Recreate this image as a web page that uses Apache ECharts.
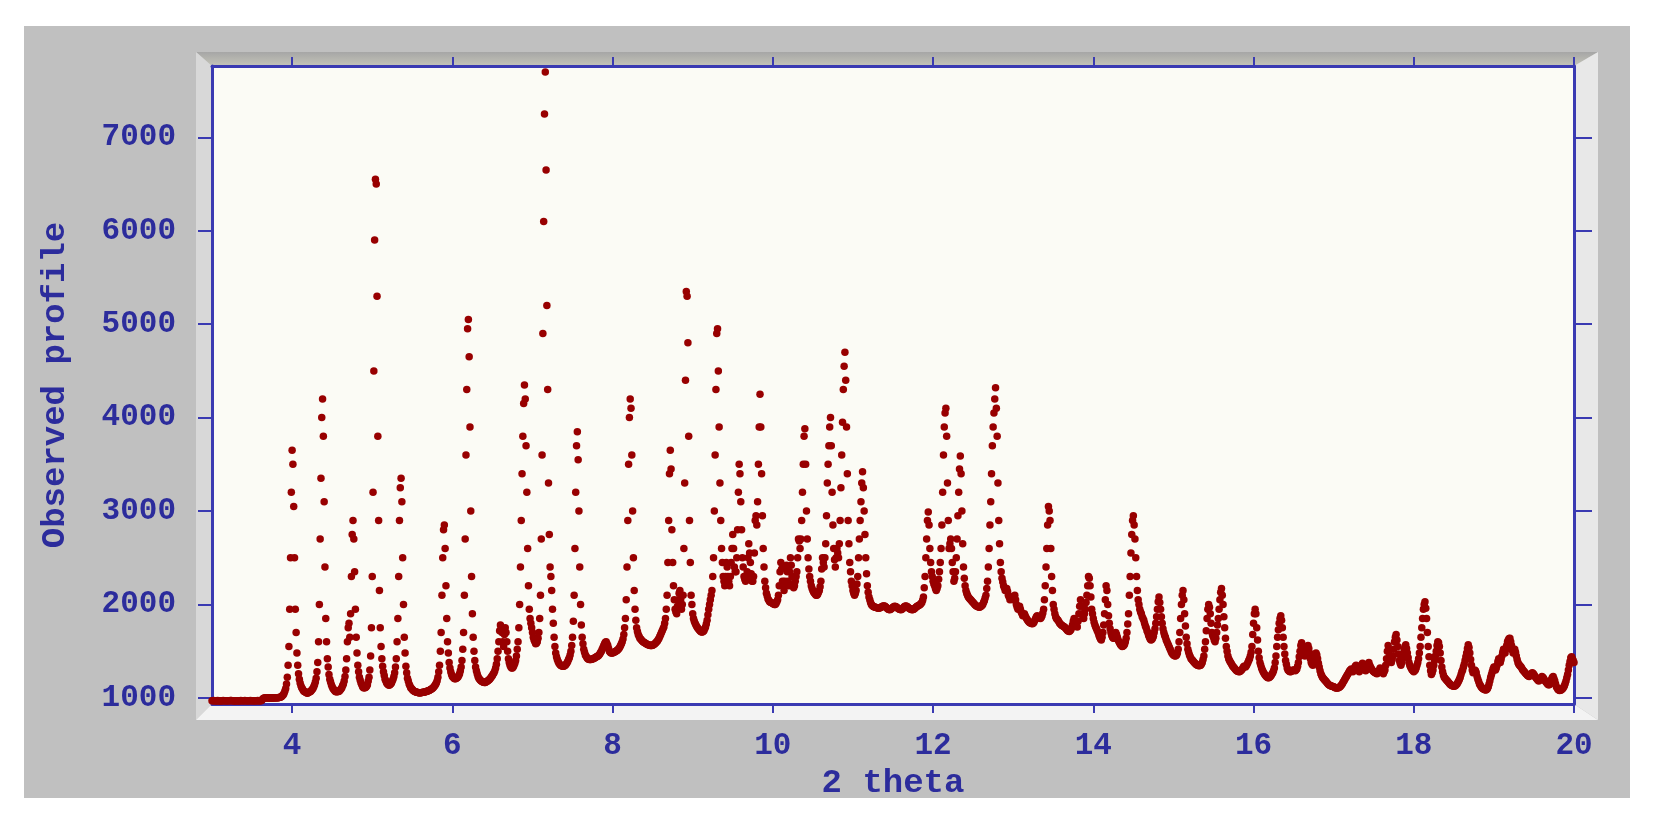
<!DOCTYPE html>
<html><head><meta charset="utf-8">
<script src="https://cdn.jsdelivr.net/npm/echarts@6/dist/echarts.min.js"></script>
<style>html,body{margin:0;padding:0;background:#fff;}#c{width:1660px;height:824px;}</style>
</head><body><div id="c"></div>
<script>
// Measured 2-theta grid: 0.01 degree steps.
// yD  = observed profile at x = D.00, D.02, ... D.98
// yDo = observed profile at x = D.01, D.03, ... D.99
const X_STEP = 0.01;
const y3 = [970,972,970,968,971,970,969,972,970,971,969,970,972,970,968,970,971,970,972,969,970,971,970,969,972,970,971,970,969,971,970,972,995,1000,998,1002,1000,997,1001,999,1003,1000,1005,1010,1025,1050,1100,1220,1550,2500];
const y3o = [971,969,970,972,970,968,971,970,971,969,970,972,970,969,971,970,968,971,970,970,972,969,971,970,970,971,969,970,972,970,971,985,998,1001,999,1000,1002,998,1000,1001,1002,1004,1008,1015,1035,1075,1150,1350,1950,3200];
const y4 = [3650,3050,1950,1480,1260,1160,1110,1080,1065,1055,1055,1065,1080,1100,1140,1210,1380,2000,3350,4200,3100,1850,1420,1250,1170,1120,1090,1070,1065,1070,1085,1110,1150,1230,1420,1750,1650,2300,2900,2350,1650,1350,1220,1160,1120,1110,1115,1140,1220,1450];
const y4o = [3500,2500,1700,1350,1200,1130,1095,1070,1060,1050,1060,1070,1090,1120,1170,1280,1600,2700,4000,3800,2400,1600,1330,1200,1140,1100,1080,1065,1070,1075,1095,1130,1180,1300,1600,1800,1900,2750,2700,1950,1480,1280,1190,1140,1110,1110,1125,1180,1300,1750];
const y5 = [2300,4500,6550,5300,2900,1750,1420,1280,1200,1160,1140,1140,1160,1200,1270,1420,1850,2900,3350,2500,1650,1340,1210,1150,1110,1090,1075,1065,1060,1055,1055,1058,1060,1065,1070,1078,1085,1095,1110,1130,1160,1220,1350,1700,2500,2850,2200,1600,1380,1280];
const y5o = [3200,5900,6500,3800,2150,1550,1340,1240,1180,1150,1135,1150,1180,1230,1330,1600,2300,3250,3100,2000,1480,1270,1180,1130,1100,1080,1070,1062,1058,1052,1056,1060,1062,1068,1074,1080,1090,1100,1120,1145,1185,1280,1500,2100,2800,2600,1850,1480,1320,1250];
const y6 = [1230,1210,1205,1215,1240,1290,1400,1700,2700,4300,5050,3900,2300,1650,1400,1290,1230,1200,1180,1170,1165,1170,1180,1195,1215,1240,1270,1320,1420,1600,1780,1700,1550,1750,1600,1420,1350,1320,1330,1370,1450,1600,2000,2900,3800,4350,3700,2600,1950,1800];
const y6o = [1220,1205,1210,1225,1260,1330,1520,2100,3600,4950,4650,3000,1900,1500,1330,1260,1210,1190,1175,1168,1166,1175,1188,1205,1228,1255,1290,1360,1500,1720,1760,1600,1680,1700,1500,1380,1330,1320,1350,1400,1520,1750,2400,3400,4150,4200,3200,2200,1850,1750];
const y7 = [1700,1620,1580,1600,1700,2100,3600,6100,7700,5200,3300,2400,2150,1800,1550,1440,1390,1360,1345,1340,1345,1360,1390,1430,1500,1650,2100,3200,3850,3000,2000,1650,1520,1460,1430,1415,1410,1415,1420,1430,1440,1450,1470,1500,1540,1580,1600,1560,1500,1480];
const y7o = [1650,1600,1585,1640,1850,2700,4900,7250,6650,4300,2750,2300,1950,1650,1480,1410,1370,1350,1342,1340,1350,1375,1410,1460,1560,1820,2600,3700,3550,2400,1780,1580,1490,1445,1420,1412,1412,1418,1425,1435,1445,1460,1485,1520,1560,1595,1580,1530,1490,1480];
const y8 = [1480,1490,1500,1510,1530,1560,1600,1680,1850,2400,3500,4200,3600,2500,1950,1750,1680,1640,1620,1600,1590,1580,1570,1565,1560,1565,1575,1590,1610,1640,1680,1720,1760,1850,2100,2900,3650,2800,2200,1950,1900,2050,2150,1950,2100,3300,5350,4800,2900,2100];
const y8o = [1485,1495,1505,1520,1545,1580,1630,1750,2050,2900,4000,4100,3000,2150,1830,1710,1660,1630,1610,1595,1585,1575,1568,1562,1562,1570,1582,1600,1625,1660,1700,1740,1800,1950,2450,3400,3450,2450,2050,1920,1980,2120,2050,2000,2600,4400,5300,3800,2450,2000];
const y9 = [1900,1820,1780,1750,1730,1710,1705,1720,1760,1830,1950,2050,2150,2500,3600,4900,4500,3300,2600,2300,2200,2450,2300,2200,2450,2750,2400,2350,2800,3500,3100,2500,2300,2250,2350,2650,2450,2250,2300,2900,2850,3500,4250,3400,2600,2250,2120,2060,2030,2020];
const y9o = [1850,1800,1765,1740,1720,1705,1710,1740,1790,1890,2000,2100,2300,3000,4300,4950,3900,2900,2450,2250,2300,2400,2250,2300,2600,2600,2350,2500,3200,3400,2800,2400,2270,2280,2500,2550,2330,2250,2550,2950,3100,3900,3900,2950,2400,2180,2090,2045,2025,2015];
const y10 = [2010,2000,2010,2050,2200,2450,2250,2150,2400,2350,2200,2500,2300,2180,2250,2350,2700,2600,2900,3500,3880,3000,2500,2300,2200,2150,2120,2100,2110,2150,2250,2500,2400,2650,3300,3700,4000,3200,2600,2400,2600,2500,2900,3600,4300,4700,3900,2900,2450,2250];
const y10o = [2005,2000,2030,2100,2350,2380,2200,2250,2420,2250,2350,2420,2220,2200,2300,2500,2680,2700,3200,3800,3500,2700,2380,2250,2170,2130,2110,2100,2130,2190,2380,2450,2500,2950,3500,3900,3700,2850,2480,2500,2550,2650,3250,3950,4550,4400,3400,2650,2350,2200];
const y11 = [2150,2100,2150,2300,2700,3100,3420,3000,2500,2200,2080,2020,1990,1975,1970,1965,1960,1965,1975,1985,1980,1965,1950,1945,1955,1970,1980,1975,1960,1950,1945,1955,1975,1985,1975,1960,1950,1945,1950,1965,1980,1990,2000,2020,2080,2300,2700,2990,2600,2350];
const y11o = [2120,2120,2220,2500,2900,3300,3250,2750,2330,2130,2050,2000,1980,1972,1968,1962,1962,1970,1980,1985,1972,1958,1946,1950,1962,1976,1978,1968,1955,1946,1950,1965,1982,1980,1968,1955,1946,1946,1958,1972,1985,1995,2010,2045,2180,2500,2900,2850,2450,2300];
const y12 = [2250,2200,2150,2200,2350,2600,3200,3900,4100,3300,2600,2700,2450,2250,2350,2700,3200,3590,3000,2400,2200,2120,2080,2060,2040,2020,2000,1985,1975,1970,1980,2000,2040,2100,2250,2600,3100,3700,4050,4320,3800,2900,2450,2280,2200,2150,2170,2100,2050,2080];
const y12o = [2220,2170,2170,2270,2450,2850,3600,4050,3800,2900,2650,2600,2350,2280,2500,2950,3450,3400,2650,2280,2150,2100,2070,2050,2030,2010,1992,1980,1972,1975,1990,2020,2070,2170,2400,2850,3400,3900,4200,4100,3300,2650,2350,2240,2180,2160,2140,2080,2060,2070];
const y13 = [2050,2100,2000,1950,1980,1920,1880,1900,1860,1830,1810,1800,1795,1810,1850,1880,1860,1850,1880,1950,2200,2600,3050,2900,2300,2000,1900,1850,1830,1800,1780,1770,1760,1740,1720,1710,1730,1780,1850,1800,1760,1900,2050,1900,1850,1950,2100,2300,2200,1950];
const y13o = [2080,2050,1970,1960,1950,1900,1890,1880,1845,1820,1805,1797,1800,1830,1870,1870,1855,1860,1910,2050,2400,2850,3000,2600,2150,1950,1870,1840,1815,1790,1775,1765,1750,1730,1715,1720,1750,1820,1830,1780,1820,1980,1980,1870,1900,2020,2200,2280,2080,1900];
const y14 = [1850,1780,1740,1700,1650,1620,1700,1900,2200,2000,1800,1700,1650,1640,1700,1650,1600,1570,1550,1560,1600,1700,1900,2300,2750,2950,2700,2300,2050,1950,1900,1850,1800,1750,1700,1650,1620,1640,1700,1800,1950,2080,1950,1800,1700,1650,1600,1560,1520,1480];
const y14o = [1810,1760,1720,1670,1630,1650,1780,2050,2150,1880,1740,1670,1640,1670,1680,1620,1585,1560,1552,1575,1640,1790,2100,2550,2900,2850,2500,2150,2000,1920,1870,1830,1770,1720,1670,1630,1625,1660,1740,1870,2030,2020,1870,1740,1670,1620,1580,1540,1500,1470];
const y15 = [1460,1450,1460,1520,1700,2000,2150,1900,1650,1520,1460,1420,1400,1380,1360,1350,1345,1350,1380,1450,1600,1850,2000,1900,1700,1650,1600,1700,1850,2050,2170,2000,1750,1550,1450,1400,1370,1340,1320,1300,1285,1280,1290,1310,1340,1330,1360,1400,1450,1550];
const y15o = [1455,1452,1480,1600,1850,2100,2050,1770,1580,1490,1440,1410,1390,1370,1355,1347,1346,1362,1410,1520,1720,1950,1970,1800,1670,1620,1640,1780,1950,2130,2100,1870,1640,1500,1420,1385,1355,1330,1310,1292,1282,1284,1300,1325,1335,1345,1380,1420,1490,1680];
const y16 = [1800,1950,1750,1500,1380,1320,1280,1250,1230,1215,1220,1240,1270,1320,1450,1650,1800,1880,1750,1550,1400,1320,1290,1280,1290,1300,1290,1310,1380,1500,1590,1520,1450,1500,1560,1480,1380,1350,1400,1480,1420,1330,1260,1220,1200,1180,1160,1140,1130,1125];
const y16o = [1900,1900,1620,1430,1350,1300,1265,1240,1222,1215,1230,1255,1290,1380,1550,1730,1850,1830,1650,1470,1360,1300,1284,1284,1296,1296,1298,1340,1440,1560,1560,1480,1470,1540,1530,1420,1360,1370,1450,1460,1370,1290,1240,1210,1190,1170,1150,1135,1128,1122];
const y17 = [1120,1110,1105,1110,1120,1140,1170,1200,1230,1260,1290,1310,1280,1320,1350,1300,1280,1330,1370,1320,1290,1340,1380,1330,1300,1280,1270,1260,1280,1320,1290,1260,1300,1420,1560,1450,1380,1450,1600,1680,1550,1400,1350,1420,1520,1570,1480,1380,1330,1300];
const y17o = [1115,1107,1107,1114,1130,1155,1185,1215,1245,1275,1300,1295,1300,1340,1320,1290,1300,1355,1345,1300,1315,1365,1350,1315,1290,1275,1265,1268,1300,1305,1275,1280,1350,1500,1500,1410,1410,1520,1650,1620,1470,1370,1380,1470,1550,1530,1430,1350,1315,1290];
const y18 = [1280,1300,1350,1420,1550,1750,1950,2030,1850,1550,1350,1250,1300,1400,1500,1600,1550,1400,1280,1220,1200,1180,1160,1140,1130,1125,1130,1150,1180,1220,1280,1330,1400,1480,1570,1480,1350,1270,1300,1270,1200,1150,1120,1100,1090,1085,1100,1150,1220,1280];
const y18o = [1290,1320,1380,1480,1650,1850,2000,1960,1700,1440,1290,1270,1350,1450,1560,1590,1480,1330,1245,1210,1190,1170,1150,1135,1127,1127,1140,1165,1200,1250,1300,1360,1440,1530,1540,1410,1300,1280,1290,1230,1175,1135,1110,1095,1087,1090,1120,1185,1250,1310];
const y19 = [1330,1300,1350,1420,1380,1450,1520,1480,1560,1620,1640,1560,1480,1520,1450,1380,1350,1330,1300,1280,1260,1240,1230,1250,1270,1250,1220,1200,1180,1200,1230,1210,1180,1160,1140,1150,1200,1230,1180,1120,1090,1080,1085,1100,1130,1180,1250,1350,1430,1420];
const y19o = [1310,1320,1390,1400,1410,1490,1500,1520,1600,1635,1600,1510,1500,1490,1410,1360,1340,1315,1290,1270,1250,1235,1240,1262,1262,1235,1210,1190,1188,1215,1222,1195,1170,1150,1142,1172,1218,1205,1150,1105,1084,1082,1092,1115,1155,1215,1300,1390,1440,1400];
const y20 = [1380];

const xTickValues = [4, 6, 8, 10, 12, 14, 16, 18, 20];
const yTickValues = [1000, 2000, 3000, 4000, 5000, 6000, 7000];
const X_MIN = 3, X_MAX = 20, Y_MIN = 935, Y_MAX = 7763;

const perDegree = [
  [3, y3, y3o], [4, y4, y4o], [5, y5, y5o], [6, y6, y6o], [7, y7, y7o], [8, y8, y8o],
  [9, y9, y9o], [10, y10, y10o], [11, y11, y11o], [12, y12, y12o], [13, y13, y13o],
  [14, y14, y14o], [15, y15, y15o], [16, y16, y16o], [17, y17, y17o], [18, y18, y18o], [19, y19, y19o]
];
const points = [];
perDegree.forEach(([d, ev, od]) => {
  ev.forEach((v, i) => {
    points.push([+(d + 2 * i * X_STEP).toFixed(2), v]);
    points.push([+(d + (2 * i + 1) * X_STEP).toFixed(2), od[i]]);
  });
});
points.push([20, y20[0]]);

const BLUE = '#3a3ab2';
const LABEL_BLUE = '#2c2c9c';
const FONT = "'Liberation Mono', 'DejaVu Sans Mono', monospace";
const G = {l: 212, t: 66, r: 1574, b: 704};

const chart = echarts.init(document.getElementById('c'), null, {renderer: 'canvas'});

function axisBase(extra) {
  return Object.assign({
    type: 'value', splitLine: {show: false},
    axisLine: {show: true, lineStyle: {color: BLUE, width: 3}},
  }, extra);
}
const plain = v => String(v);

chart.setOption({
  animation: false,
  backgroundColor: '#ffffff',
  graphic: [
    {type: 'rect', z: -20, shape: {x: 24, y: 26, width: 1606, height: 772}, style: {fill: '#c0c0c0'}},
    {type: 'polygon', z: -15, shape: {points: [[196,52],[1598,52],[G.r,G.t],[G.l,G.t]]},
      style: {fill: new echarts.graphic.LinearGradient(0,0,0,1,[{offset:0,color:'#a6a6a6'},{offset:1,color:'#c4c4b8'}])}},
    {type: 'polygon', z: -15, shape: {points: [[196,52],[G.l,G.t],[G.l,G.b],[196,720]]}, style: {fill: '#d8d8d8'}},
    {type: 'polygon', z: -15, shape: {points: [[196,720],[G.l,G.b],[G.r,G.b],[1598,720]]}, style: {fill: '#f3f3f3'}},
    {type: 'polygon', z: -15, shape: {points: [[1598,52],[1598,720],[G.r,G.b],[G.r,G.t]]}, style: {fill: '#e8e8e8'}},
    {type: 'rect', z: -10, shape: {x: G.l, y: G.t, width: G.r - G.l, height: G.b - G.t}, style: {fill: '#fbfbf5'}}
  ],
  grid: {left: G.l, top: G.t, width: G.r - G.l, height: G.b - G.t, containLabel: false},
  xAxis: [
    axisBase({position: 'bottom', min: X_MIN, max: X_MAX,
      name: '2 theta', nameLocation: 'middle', nameGap: 54,
      nameTextStyle: {color: LABEL_BLUE, fontFamily: FONT, fontWeight: 'bold', fontSize: 34},
      axisTick: {show: true, inside: false, length: 9, lineStyle: {color: BLUE, width: 2}, customValues: xTickValues},
      axisLabel: {show: true, margin: 27, color: LABEL_BLUE, fontFamily: FONT, fontWeight: 'bold', fontSize: 31, customValues: xTickValues, formatter: plain}
    }),
    axisBase({position: 'top', min: X_MIN, max: X_MAX,
      axisTick: {show: true, inside: false, length: 9, lineStyle: {color: BLUE, width: 2}, customValues: xTickValues},
      axisLabel: {show: false}
    })
  ],
  yAxis: [
    axisBase({position: 'left', min: Y_MIN, max: Y_MAX,
      name: 'Observed profile', nameLocation: 'middle', nameGap: 140,
      nameTextStyle: {color: LABEL_BLUE, fontFamily: FONT, fontWeight: 'bold', fontSize: 34},
      axisTick: {show: true, inside: false, length: 14, lineStyle: {color: BLUE, width: 2}, customValues: yTickValues},
      axisLabel: {show: true, margin: 36, color: LABEL_BLUE, fontFamily: FONT, fontWeight: 'bold', fontSize: 31, customValues: yTickValues, formatter: plain}
    }),
    axisBase({position: 'right', min: Y_MIN, max: Y_MAX,
      axisTick: {show: true, inside: false, length: 18, lineStyle: {color: BLUE, width: 2}, customValues: yTickValues},
      axisLabel: {show: false}
    })
  ],
  series: [{
    type: 'scatter', xAxisIndex: 0, yAxisIndex: 0,
    symbol: 'circle', symbolSize: 7.5,
    itemStyle: {color: '#980000', opacity: 1},
    data: points
  }]
});
</script>
</body></html>
